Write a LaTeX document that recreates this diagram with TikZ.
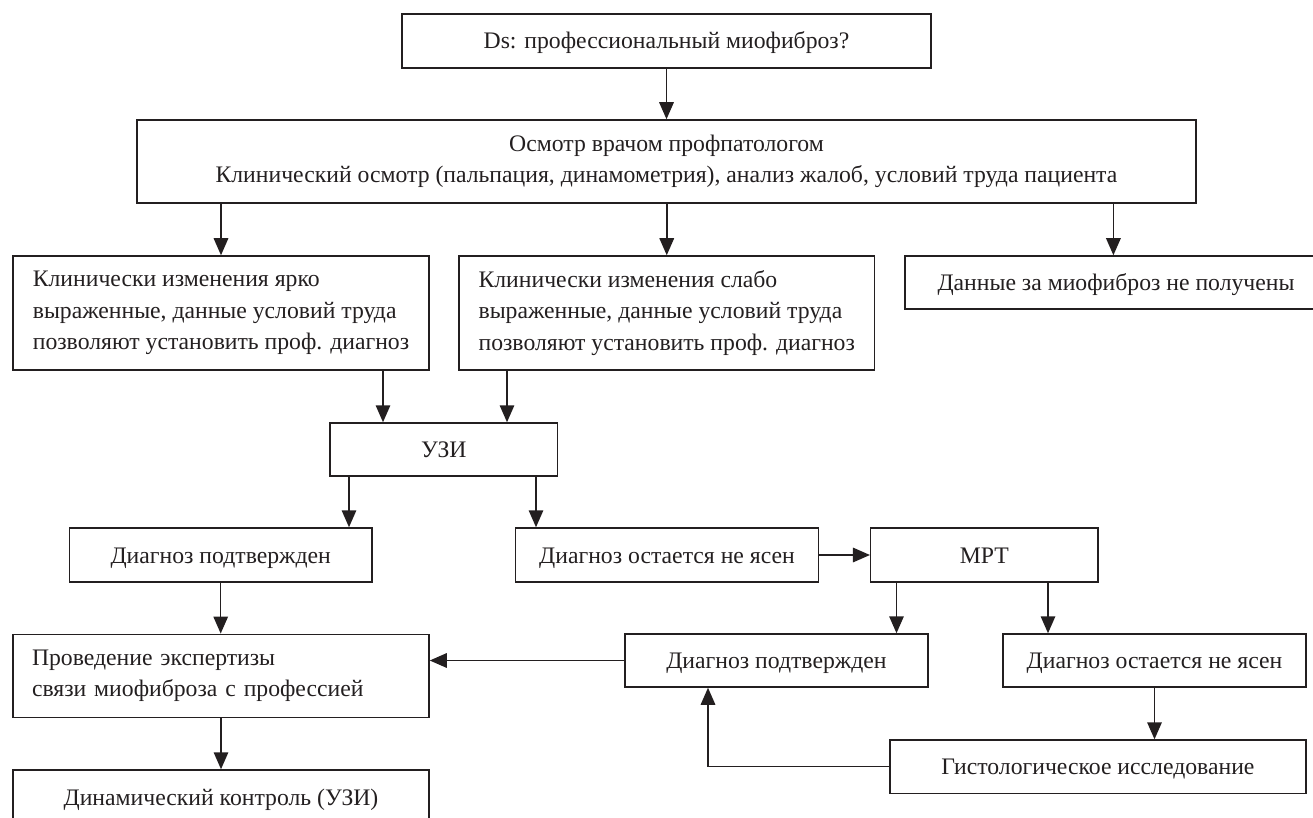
\documentclass[tikz,border=0pt]{standalone}
\usepackage{fontspec}
\setmainfont{Liberation Serif}
\usetikzlibrary{arrows.meta}
\definecolor{ink}{HTML}{231F20}
\tikzset{
  sbox/.style={draw=ink, text=ink, line width=1.5pt, inner sep=0pt,
    font=\fontsize{23.7}{31.5}\selectfont, text height=16pt, text depth=0pt},
  mbox/.style={draw=ink, text=ink, line width=1.5pt, inner sep=0pt,
    font=\fontsize{23.7}{31.5}\selectfont},
  arr/.style={draw=ink, line width=1.5pt, -{Triangle[length=17pt,width=14.5pt]}},
}
\begin{document}
\begin{tikzpicture}[x=1pt,y=-1pt]
\clip (0,0) rectangle (1313,818);
\node[sbox, minimum width=529pt, minimum height=54pt] (ds) at (666.5,41) {Ds: профессиональный миофиброз?};
\node[mbox, align=center, minimum width=1059pt, minimum height=83pt] (exam) at (666.5,161.5) {Осмотр врачом профпатологом\\Клинический осмотр (пальпация, динамометрия), анализ жалоб, условий труда пациента};
\node[mbox, align=left, minimum width=416pt, minimum height=114pt] (a) at (221,313) {Клинически изменения ярко\\выраженные, данные условий труда\\позволяют установить проф. диагноз};
\node[mbox, align=left, minimum width=415.5pt, minimum height=114pt] (b) at (666.75,313) {Клинически изменения слабо\\выраженные, данные условий труда\\позволяют установить проф. диагноз};
\node[sbox, minimum width=422pt, minimum height=53pt] (c) at (1116,282.5) {Данные за миофиброз не получены};
\node[sbox, minimum width=227.6pt, minimum height=53pt] (uzi) at (443.8,449.5) {УЗИ};
\node[sbox, minimum width=302.6pt, minimum height=54pt] (conf1) at (220.7,555) {Диагноз подтвержден};
\node[sbox, minimum width=302.7pt, minimum height=54pt] (unc1) at (667,555) {Диагноз остается не ясен};
\node[sbox, minimum width=227.1pt, minimum height=54pt] (mrt) at (984.25,555) {МРТ};
\node[mbox, align=left, text width=378pt, inner xsep=19pt, minimum height=83.4pt] (exp) at (221,676) {Проведение экспертизы\\связи миофиброза с профессией};
\node[sbox, minimum width=302.8pt, minimum height=53pt] (conf2) at (776.4,660.5) {Диагноз подтвержден};
\node[sbox, minimum width=303pt, minimum height=53pt] (unc2) at (1154.5,660.5) {Диагноз остается не ясен};
\node[sbox, minimum width=416.3pt, minimum height=53.3pt] (hist) at (1097.9,766.7) {Гистологическое исследование};
\node[sbox, minimum width=416pt, minimum height=54pt] (dyn) at (221,797) {Динамический контроль (УЗИ)};

\draw[arr] (ds.south) -- (exam.north);
\draw[arr] (exam.south -| a.north) -- (a.north);
\draw[arr] (exam.south -| b.north) -- (b.north);
\draw[arr] ([xshift=-2.6pt]c.north |- exam.south) -- ([xshift=-2.6pt]c.north);
\draw[arr] ([xshift=162pt]a.south) -- ([xshift=162pt]a.south |- uzi.north);
\draw[arr] ([xshift=-159.75pt]b.south) -- ([xshift=-159.75pt]b.south |- uzi.north);
\draw[arr] ([xshift=-94.8pt]uzi.south) -- ([xshift=-94.8pt]uzi.south |- conf1.north);
\draw[arr] ([xshift=92.2pt]uzi.south) -- ([xshift=92.2pt]uzi.south |- unc1.north);
\draw[arr] (unc1.east) -- (mrt.west);
\draw[arr] (conf1.south) -- (conf1.south |- exp.north);
\draw[arr] (conf2.west) -- (conf2.west -| exp.east);
\draw[arr] ([xshift=-87.75pt]mrt.south) -- ([xshift=-87.75pt]mrt.south |- conf2.north);
\draw[arr] ([xshift=63.75pt]mrt.south) -- ([xshift=63.75pt]mrt.south |- unc2.north);
\draw[arr] (unc2.south) -- (unc2.south |- hist.north);
\draw[arr] (hist.west) -| ([xshift=-68.4pt]conf2.south);
\draw[arr] (exp.south) -- (dyn.north);
\end{tikzpicture}
\end{document}
